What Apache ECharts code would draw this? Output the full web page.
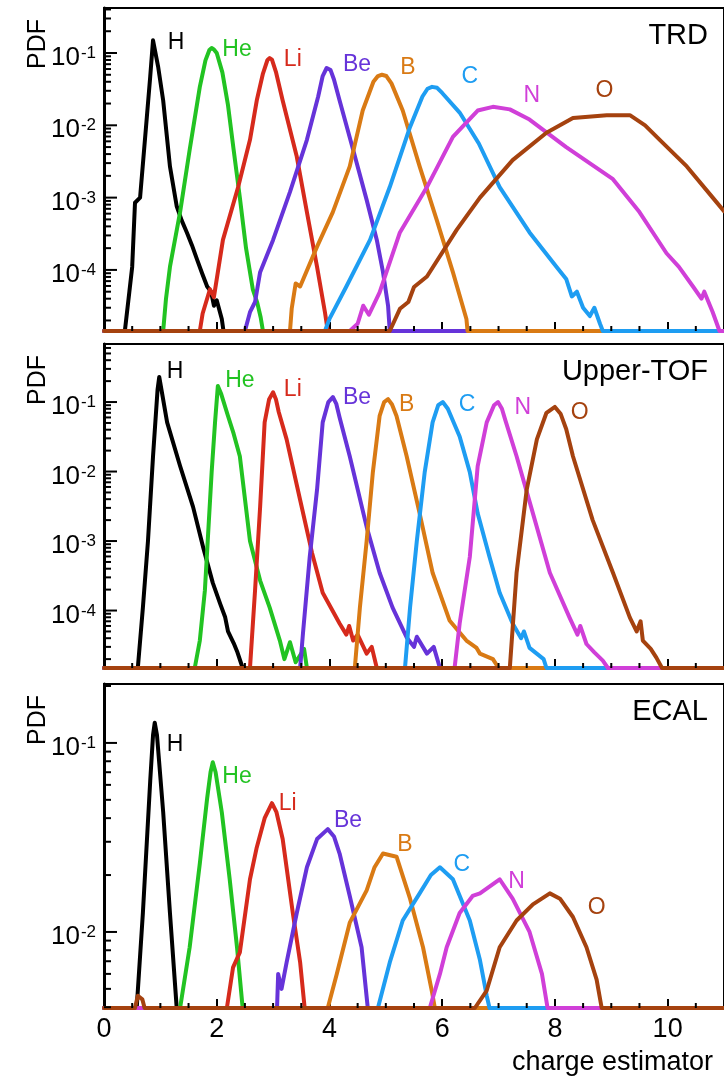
<!DOCTYPE html>
<html>
<head>
<meta charset="utf-8">
<script src="https://cdn.jsdelivr.net/npm/echarts@6/dist/echarts.min.js"></script>
<style>
  html, body { margin: 0; padding: 0; background: #ffffff; }
  #chart { width: 724px; height: 1079px; }
</style>
</head>
<body>
<div id="chart"></div>
<script>
// Charge-estimator PDFs for H..O nuclei, one panel per detector.
// Each curve: [charge estimator, PDF]; a PDF of 0 is an empty bin (drawn on the floor).
const SPECIES = ['H', 'He', 'Li', 'Be', 'B', 'C', 'N', 'O'];
const COLORS = ['#000000', '#22c322', '#d62a1c', '#6633d9', '#d97a14', '#1e9df2', '#d03fd8', '#a5420f'];
const X_TICK_LABELS = [0, 2, 4, 6, 8, 10];

// ---- TRD ----
const trdH = [[0,0],[0.37,0],[0.45,5.0e-5],[0.50,1.1e-4],[0.55,8.5e-4],[0.64,1.0e-3],[0.76,1.3e-2],[0.82,4.7e-2],[0.87,0.15],[0.96,0.065],[1.05,2.2e-2],[1.17,2.7e-3],[1.29,7.6e-4],[1.38,4.8e-4],[1.47,3.3e-4],[1.56,2.2e-4],[1.65,1.4e-4],[1.74,9.0e-5],[1.83,5.9e-5],[1.9,5.0e-5],[1.95,3.2e-5],[2.0,3.8e-5],[2.09,2.1e-5],[2.12,0],[11,0]];
const trdHe = [[0,0],[1.05,0],[1.1,4.0e-5],[1.17,1.1e-4],[1.35,6.3e-4],[1.52,4.6e-3],[1.70,3.4e-2],[1.80,7.9e-2],[1.87,0.11],[1.91,0.117],[1.95,0.112],[2.0,0.10],[2.1,5.4e-2],[2.2,1.9e-2],[2.3,4.6e-3],[2.41,1.0e-3],[2.52,2.0e-4],[2.64,5.4e-5],[2.72,3.5e-5],[2.78,2.2e-5],[2.82,0],[11,0]];
const trdLi = [[0,0],[1.70,0],[1.75,2.5e-5],[1.88,5.4e-5],[1.95,4.2e-5],[2.11,2.6e-4],[2.38,1.4e-3],[2.59,6.3e-3],[2.71,2.2e-2],[2.82,5.2e-2],[2.9,8.0e-2],[2.94,8.5e-2],[2.98,8.1e-2],[3.05,5.5e-2],[3.17,2.2e-2],[3.42,3.7e-3],[3.6,6.3e-4],[3.78,1.1e-4],[3.92,2.6e-5],[3.97,0],[11,0]];
const trdBe = [[0,0],[2.5,0],[2.59,2.6e-5],[2.68,3.6e-5],[2.72,5.5e-5],[2.77,9.3e-5],[3.0,2.6e-4],[3.3,1.2e-3],[3.6,6.3e-3],[3.8,2.5e-2],[3.88,4.8e-2],[3.95,6.2e-2],[4.02,5.8e-2],[4.08,4.3e-2],[4.18,2.2e-2],[4.42,4.6e-3],[4.66,9.3e-4],[4.84,2.6e-4],[4.95,9.3e-5],[5.04,3.2e-5],[5.07,0],[11,0]];
const trdB = [[0,0],[3.3,0],[3.33,2.9e-5],[3.4,6.5e-5],[3.48,5.9e-5],[3.78,2.1e-4],[4.06,6.3e-4],[4.36,2.7e-3],[4.59,1.6e-2],[4.78,4.0e-2],[4.86,4.8e-2],[4.93,5.0e-2],[5.01,4.8e-2],[5.1,3.8e-2],[5.3,1.6e-2],[5.6,2.7e-3],[5.9,5.0e-4],[6.19,9.3e-5],[6.43,2.1e-5],[6.45,0],[11,0]];
const trdC = [[0,0],[3.92,0],[4.0,2.1e-5],[4.3,5.9e-5],[4.72,2.6e-4],[5.07,1.4e-3],[5.43,9.5e-3],[5.65,2.5e-2],[5.74,3.2e-2],[5.82,3.4e-2],[5.91,3.3e-2],[6.0,2.8e-2],[6.31,1.5e-2],[6.65,5.6e-3],[7.02,1.4e-3],[7.55,3.3e-4],[8.03,1.1e-4],[8.2,7.5e-5],[8.3,4.3e-5],[8.39,5.0e-5],[8.5,3.0e-5],[8.62,2.3e-5],[8.7,3.0e-5],[8.8,1.8e-5],[8.85,0],[11,0]];
const trdN = [[0,0],[4.36,0],[4.5,1.8e-5],[4.6,3.2e-5],[4.7,2.4e-5],[4.89,4.9e-5],[5.25,3.3e-4],[5.73,1.4e-3],[6.19,6.9e-3],[6.63,1.6e-2],[6.9,1.8e-2],[7.2,1.66e-2],[7.55,1.2e-2],[8.2,5.0e-3],[9.03,1.8e-3],[9.5,6.3e-4],[9.98,1.7e-4],[10.2,1.1e-4],[10.45,5.9e-5],[10.6,4.0e-5],[10.65,5.0e-5],[10.8,2.6e-5],[10.92,0],[11,0]];
const trdO = [[0,0],[5.07,0],[5.25,2.9e-5],[5.4,3.6e-5],[5.5,5.8e-5],[5.73,8.1e-5],[6.26,3.6e-4],[6.67,1.0e-3],[7.25,3.3e-3],[7.85,7.9e-3],[8.32,1.26e-2],[8.92,1.38e-2],[9.33,1.38e-2],[9.6,1.0e-2],[9.86,6.3e-3],[10.34,2.7e-3],[10.8,1.0e-3],[11,6.5e-4]];
const trdLabels = [[1.28,0.137],[2.36,0.11],[3.35,0.080],[4.49,0.068],[5.39,0.062],[6.49,0.047],[7.59,0.026],[8.88,0.030]];

// ---- Upper-TOF ----
const tofH = [[0,0],[0.6,0],[0.69,1.1e-4],[0.78,1.0e-3],[0.87,1.66e-2],[0.95,0.15],[0.98,0.23],[1.02,0.15],[1.12,5.1e-2],[1.35,1.2e-2],[1.58,3.1e-3],[1.76,8.1e-4],[1.93,2.5e-4],[2.06,1.26e-4],[2.15,8.0e-5],[2.2,5.0e-5],[2.23,4.7e-5],[2.3,3.4e-5],[2.36,2.6e-5],[2.46,0],[11,0]];
const tofHe = [[0,0],[1.61,0],[1.70,3.7e-5],[1.79,1.95e-4],[1.84,1.0e-3],[1.91,9.8e-3],[1.97,5.1e-2],[2.02,0.17],[2.08,0.13],[2.2,6.3e-2],[2.3,3.5e-2],[2.41,1.66e-2],[2.59,1.0e-3],[2.77,2.7e-4],[2.94,1.1e-4],[3.12,3.7e-5],[3.2,2.0e-5],[3.3,3.5e-5],[3.4,1.8e-5],[3.55,2.8e-5],[3.6,0],[11,0]];
const tofLi = [[0,0],[2.59,0],[2.68,1.95e-4],[2.77,3.1e-3],[2.85,5.1e-2],[2.93,0.11],[3.0,0.138],[3.05,0.11],[3.1,7.2e-2],[3.24,2.9e-2],[3.48,3.9e-3],[3.69,6.8e-4],[3.88,1.8e-4],[4.18,6.5e-5],[4.3,4.5e-5],[4.35,6.0e-5],[4.42,3.7e-5],[4.5,4.5e-5],[4.66,2.4e-5],[4.75,3.0e-5],[4.84,0],[11,0]];
const tofBe = [[0,0],[3.48,0],[3.53,4.7e-5],[3.65,5.9e-4],[3.78,5.5e-3],[3.88,5.1e-2],[3.98,0.1],[4.06,0.118],[4.12,0.095],[4.18,6.0e-2],[4.36,1.66e-2],[4.66,1.6e-3],[4.89,3.5e-4],[5.12,1.1e-4],[5.37,4.1e-5],[5.5,3.0e-5],[5.55,4.2e-5],[5.73,2.4e-5],[5.85,3.0e-5],[5.96,0],[11,0]];
const tofB = [[0,0],[4.45,0],[4.54,1.1e-4],[4.66,1.0e-3],[4.77,9.8e-3],[4.89,6.3e-2],[4.97,0.1],[5.04,0.11],[5.11,0.092],[5.19,6.3e-2],[5.37,1.66e-2],[5.6,2.5e-3],[5.83,3.5e-4],[6.13,7.2e-5],[6.43,3.7e-5],[6.61,2.9e-5],[6.67,2.4e-5],[6.9,2.0e-5],[7.0,0],[11,0]];
const tofC = [[0,0],[5.34,0],[5.43,1.1e-4],[5.55,1.0e-3],[5.69,9.8e-3],[5.83,5.1e-2],[5.93,0.09],[6.01,0.10],[6.1,0.08],[6.31,3.2e-2],[6.49,9.8e-3],[6.63,2.5e-3],[6.84,5.9e-4],[7.02,1.8e-4],[7.25,6.5e-5],[7.4,4.0e-5],[7.45,5.0e-5],[7.55,2.9e-5],[7.8,2.0e-5],[7.85,0],[11,0]];
const tofN = [[0,0],[6.22,0],[6.31,6.5e-5],[6.49,5.9e-4],[6.63,1.2e-2],[6.79,5.1e-2],[6.92,0.09],[6.99,0.10],[7.06,0.08],[7.12,5.5e-2],[7.32,1.66e-2],[7.61,2.5e-3],[7.91,3.5e-4],[8.26,7.9e-5],[8.4,4.5e-5],[8.45,6.0e-5],[8.56,3.3e-5],[8.7,2.5e-5],[8.85,1.9e-5],[8.94,0],[11,0]];
const tofO = [[0,0],[7.2,0],[7.32,3.5e-4],[7.5,5.5e-3],[7.68,2.9e-2],[7.85,7.0e-2],[8.0,8.5e-2],[8.1,6.8e-2],[8.2,4.1e-2],[8.32,1.66e-2],[8.67,2.0e-3],[9.03,3.5e-4],[9.33,7.9e-5],[9.45,5.0e-5],[9.52,7.0e-5],[9.56,3.7e-5],[9.7,2.8e-5],[9.8,2.1e-5],[9.9,0],[11,0]];
const tofLabels = [[1.26,0.27],[2.41,0.20],[3.35,0.149],[4.49,0.114],[5.37,0.091],[6.44,0.091],[7.43,0.082],[8.44,0.0695]];

// ---- ECAL ----
const ecalH = [[0,0],[0.58,0],[0.69,1.26e-2],[0.82,6.3e-2],[0.87,0.11],[0.9,0.128],[0.94,0.11],[1.05,4.3e-2],[1.17,1.26e-2],[1.29,0],[11,0]];
const ecalHe = [[0,0],[1.35,0],[1.52,8.3e-3],[1.70,2.3e-2],[1.83,5.1e-2],[1.89,7.0e-2],[1.93,7.9e-2],[1.98,7.0e-2],[2.09,4.3e-2],[2.23,1.9e-2],[2.36,8.3e-3],[2.46,0],[11,0]];
const ecalLi = [[0,0],[2.18,0],[2.29,6.5e-3],[2.41,7.8e-3],[2.59,1.9e-2],[2.71,2.8e-2],[2.85,4.0e-2],[2.98,4.8e-2],[3.06,4.3e-2],[3.17,3.1e-2],[3.35,1.26e-2],[3.48,6.9e-3],[3.56,0],[11,0]];
const ecalBe = [[0,0],[3.07,0],[3.09,6.0e-3],[3.15,5.0e-3],[3.24,6.9e-3],[3.42,1.26e-2],[3.6,2.2e-2],[3.78,3.1e-2],[3.97,3.5e-2],[4.08,3.2e-2],[4.18,2.6e-2],[4.36,1.55e-2],[4.57,8.3e-3],[4.68,0],[11,0]];
const ecalB = [[0,0],[3.97,0],[4.13,6.0e-3],[4.36,1.12e-2],[4.66,1.66e-2],[4.8,2.2e-2],[4.95,2.6e-2],[5.19,2.5e-2],[5.43,1.5e-2],[5.66,8.3e-3],[5.82,4.8e-3],[5.87,0],[11,0]];
const ecalC = [[0,0],[4.86,0],[5.07,6.9e-3],[5.3,1.15e-2],[5.6,1.6e-2],[5.8,2.0e-2],[5.96,2.2e-2],[6.19,1.9e-2],[6.49,1.15e-2],[6.67,7.1e-3],[6.79,4.6e-3],[6.84,0],[11,0]];
const ecalN = [[0,0],[5.78,0],[5.96,6.0e-3],[6.08,8.3e-3],[6.31,1.26e-2],[6.54,1.55e-2],[6.67,1.6e-2],[7.02,1.9e-2],[7.25,1.5e-2],[7.55,1.0e-2],[7.77,6.0e-3],[7.87,0],[11,0]];
const ecalO = [[0,0],[0.55,0],[0.6,4.6e-3],[0.68,4.4e-3],[0.72,0],[6.58,0],[6.79,4.9e-3],[7.02,8.3e-3],[7.32,1.15e-2],[7.61,1.4e-2],[7.91,1.6e-2],[8.09,1.5e-2],[8.32,1.2e-2],[8.56,8.3e-3],[8.74,5.6e-3],[8.83,0],[11,0]];
const ecalLabels = [[1.26,0.0975],[2.36,0.066],[3.26,0.048],[4.33,0.039],[5.34,0.029],[6.35,0.0226],[7.32,0.0184],[8.74,0.0135]];

// Panel contents and axis ranges
const PANELS = [
  { name: 'TRD',       yMin: 1.43e-5, yMax: 0.419, curves: [trdH, trdHe, trdLi, trdBe, trdB, trdC, trdN, trdO], labels: trdLabels },
  { name: 'Upper-TOF', yMin: 1.49e-5, yMax: 0.684, curves: [tofH, tofHe, tofLi, tofBe, tofB, tofC, tofN, tofO], labels: tofLabels },
  { name: 'ECAL',      yMin: 3.96e-3, yMax: 0.205, curves: [ecalH, ecalHe, ecalLi, ecalBe, ecalB, ecalC, ecalN, ecalO], labels: ecalLabels }
];
const X_MIN = 0, X_MAX = 11;

// Page layout (pixels)
const FONT = '"Liberation Sans", Arial, Helvetica, sans-serif';
const PLOT_LEFT = 104, PLOT_WIDTH = 620;
const PANEL_BOX = [ { top: 8, height: 323 }, { top: 344, height: 324 }, { top: 684, height: 324 } ];

// Log-axis tick positions (1..9 x 10^k) inside [min, max]; flag 1 marks decades
function logTicks(min, max) {
  const out = [];
  for (let e = Math.floor(Math.log10(min)); e <= Math.ceil(Math.log10(max)); e++) {
    for (let m = 1; m <= 9; m++) {
      const v = m * Math.pow(10, e);
      if (v >= min * 0.999 && v <= max * 1.001) out.push([X_MIN, v, m === 1 ? 1 : 0]);
    }
  }
  return out;
}
// Secondary x ticks every 0.5 between the labelled ones
function xMinorTicks(yMin) {
  const out = [];
  for (let k = 1; k * 0.5 < X_MAX; k++) {
    if (k % 4 !== 0) out.push([k * 0.5, yMin]);
  }
  return out;
}

const grid = [], xAxis = [], yAxis = [], series = [], graphic = [];

PANELS.forEach((p, i) => {
  const box = PANEL_BOX[i];
  const isBottom = i === PANELS.length - 1;
  grid.push({
    left: PLOT_LEFT, width: PLOT_WIDTH, top: box.top, height: box.height,
    show: true, borderColor: '#000', borderWidth: 2, backgroundColor: 'transparent'
  });
  xAxis.push({
    type: 'value', gridIndex: i, min: X_MIN, max: X_MAX, interval: 2,
    axisLine: { show: true, onZero: false, lineStyle: { color: '#000', width: 2.5 } },
    axisTick: { show: true, inside: true, length: 9, lineStyle: { color: '#000', width: 2 } },
    axisLabel: {
      show: isBottom, fontSize: 27, color: '#000', margin: 8, fontFamily: FONT,
      showMaxLabel: false,
      formatter: v => (X_TICK_LABELS.indexOf(v) >= 0 ? String(v) : '')
    },
    splitLine: { show: false }
  });
  yAxis.push({
    type: 'log', logBase: 10, gridIndex: i, min: p.yMin, max: p.yMax,
    axisLine: { show: true, lineStyle: { color: '#000', width: 3 } },
    axisTick: { show: false },
    splitLine: { show: false },
    axisLabel: {
      margin: 8, color: '#000', fontFamily: FONT, padding: [10, 0, 0, 0],
      formatter: v => {
        const l = Math.log10(v);
        const e = Math.round(l);
        if (Math.abs(l - e) > 1e-6) return '';
        return '{b|10}{s|' + e + '}';
      },
      rich: {
        b: { fontSize: 26, fontFamily: FONT, color: '#000' },
        s: { fontSize: 17, fontFamily: FONT, color: '#000', verticalAlign: 'top', padding: [0, 0, 0, 1] }
      }
    }
  });

  // distributions
  p.curves.forEach((c, k) => {
    series.push({
      type: 'line', name: SPECIES[k], xAxisIndex: i, yAxisIndex: i,
      data: c.map(([x, y]) => [x, y > 0 ? y : p.yMin]),
      showSymbol: false, symbol: 'none', smooth: false,
      lineStyle: { color: COLORS[k], width: 4, join: 'round', cap: 'round' },
      z: 3, silent: true
    });
  });

  // log minor/major ticks on the y axis
  series.push({
    type: 'custom', xAxisIndex: i, yAxisIndex: i, silent: true, clip: false, z: 4,
    data: logTicks(p.yMin, p.yMax), encode: { x: 0, y: 1 },
    renderItem: (params, api) => {
      const pt = api.coord([api.value(0), api.value(1)]);
      const len = api.value(2) ? 13 : 7;
      return { type: 'line', shape: { x1: pt[0], y1: pt[1], x2: pt[0] + len, y2: pt[1] },
               style: { stroke: '#000', lineWidth: 2 } };
    }
  });
  // secondary x ticks
  series.push({
    type: 'custom', xAxisIndex: i, yAxisIndex: i, silent: true, clip: false, z: 4,
    data: xMinorTicks(p.yMin), encode: { x: 0, y: 1 },
    renderItem: (params, api) => {
      const pt = api.coord([api.value(0), api.value(1)]);
      return { type: 'line', shape: { x1: pt[0], y1: pt[1], x2: pt[0], y2: pt[1] - 5 },
               style: { stroke: '#000', lineWidth: 2 } };
    }
  });
  // species names beside their peaks
  series.push({
    type: 'custom', xAxisIndex: i, yAxisIndex: i, silent: true, clip: false, z: 6,
    data: p.labels.map((a, k) => [a[0], a[1], k]), encode: { x: 0, y: 1 },
    renderItem: (params, api) => {
      const pt = api.coord([api.value(0), api.value(1)]);
      const k = api.value(2);
      return { type: 'text', x: pt[0], y: pt[1],
               style: { text: SPECIES[k], fill: COLORS[k], fontSize: 23, fontFamily: FONT,
                        align: 'center', verticalAlign: 'middle' } };
    }
  });

  // detector name and axis title
  graphic.push({
    type: 'text', x: 708, y: box.top + 28, silent: true,
    style: { text: p.name, fontSize: 29, fontFamily: FONT, fill: '#000',
             align: 'right', verticalAlign: 'middle' }
  });
  graphic.push({
    type: 'text', x: 38, y: box.top + 36, rotation: Math.PI / 2, silent: true,
    style: { text: 'PDF', fontSize: 25, fontFamily: FONT, fill: '#000',
             align: 'center', verticalAlign: 'middle' }
  });
});

graphic.push({
  type: 'text', x: 713, y: 1063, silent: true,
  style: { text: 'charge estimator', fontSize: 27, fontFamily: FONT, fill: '#000',
           align: 'right', verticalAlign: 'middle' }
});

const chart = echarts.init(document.getElementById('chart'), null, { renderer: 'canvas' });
chart.setOption({
  animation: false,
  backgroundColor: '#ffffff',
  textStyle: { fontFamily: FONT },
  grid, xAxis, yAxis, series, graphic
});
</script>
</body>
</html>
